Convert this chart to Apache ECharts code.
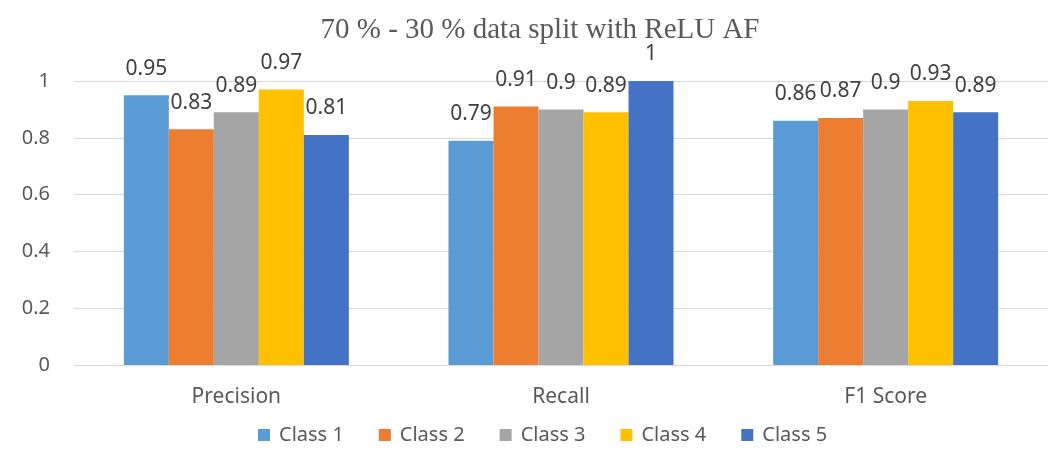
<!DOCTYPE html>
<html>
<head>
<meta charset="utf-8">
<script src="https://cdn.jsdelivr.net/npm/echarts@6/dist/echarts.min.js"></script>
<style>
  html, body { margin: 0; padding: 0; background: #fff; }
  #chart { width: 1052px; height: 452px; }
</style>
</head>
<body>
<div id="chart"></div>
<script>
// Metric categories on the x axis
const categories = ['Precision', 'Recall', 'F1 Score'];
// One series per class, values per metric
const class1 = [0.95, 0.79, 0.86];
const class2 = [0.83, 0.91, 0.87];
const class3 = [0.89, 0.90, 0.90];
const class4 = [0.97, 0.89, 0.93];
const class5 = [0.81, 1.00, 0.89];
const seriesNames = ['Class 1', 'Class 2', 'Class 3', 'Class 4', 'Class 5'];
const seriesValues = [class1, class2, class3, class4, class5];
const colors = ['#5b9bd5', '#ed7d31', '#a5a5a5', '#ffc000', '#4472c4'];

const sansFont = '"Noto Sans", "Open Sans", sans-serif';

const chart = echarts.init(document.getElementById('chart'));
chart.setOption({
  animation: false,
  color: colors,
  title: {
    text: '70 % - 30 % data split with ReLU AF',
    left: 535,
    textAlign: 'center',
    top: 11,
    textStyle: {
      fontFamily: '"Liberation Serif", "DejaVu Serif", serif',
      fontSize: 29,
      fontWeight: 'normal',
      color: '#595959'
    }
  },
  legend: {
    bottom: 2,
    left: 253,
    itemWidth: 12,
    itemHeight: 12,
    itemGap: 35,
    icon: 'rect',
    textStyle: { fontFamily: sansFont, fontSize: 20, color: '#595959', padding: [0, 0, 0, 4] },
    data: seriesNames
  },
  grid: { left: 74, right: 4, top: 81, bottom: 87 },
  xAxis: {
    type: 'category',
    data: categories,
    axisLine: { lineStyle: { color: '#d9d9d9' } },
    axisTick: { show: false },
    axisLabel: { fontFamily: sansFont, fontSize: 21, color: '#595959', margin: 22 }
  },
  yAxis: {
    type: 'value',
    min: 0,
    max: 1,
    interval: 0.2,
    axisLine: { show: false },
    axisTick: { show: false },
    splitLine: { lineStyle: { color: '#d9d9d9', width: 1 } },
    axisLabel: { fontFamily: sansFont, fontSize: 20, color: '#595959', margin: 24 }
  },
  series: seriesNames.map((name, i) => ({
    name: name,
    type: 'bar',
    data: seriesValues[i],
    barGap: '0%',
    barCategoryGap: '30.7%',
    label: {
      show: true,
      position: 'top',
      distance: 16,
      fontFamily: sansFont,
      fontSize: 21,
      color: '#404040'
    }
  }))
});
</script>
</body>
</html>
